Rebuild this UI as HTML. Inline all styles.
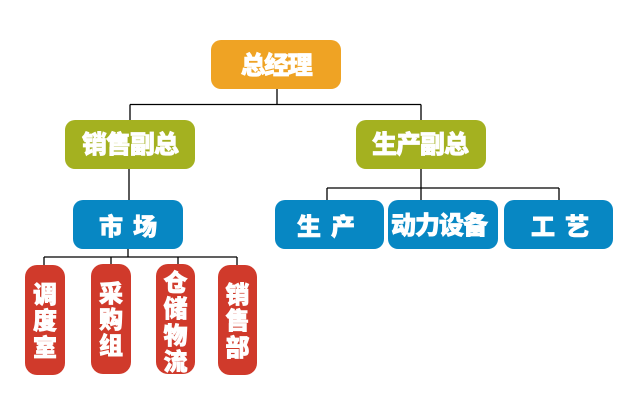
<!DOCTYPE html>
<html>
<head>
<meta charset="utf-8">
<style>
html,body{margin:0;padding:0;background:#fff;}
svg{display:block;}
text{font-family:"Liberation Sans","Noto Sans CJK SC","WenQuanYi Zen Hei",sans-serif;font-weight:900;fill:#fff;stroke:#fff;stroke-width:0.7;}
</style>
</head>
<body>
<svg width="640" height="400" viewBox="0 0 640 400" xmlns="http://www.w3.org/2000/svg">
  <rect width="640" height="400" fill="#fff"/>
  <!-- connectors -->
  <g stroke="#000" stroke-width="1.3" fill="none">
    <line x1="277" y1="89" x2="277" y2="104.5"/>
    <line x1="130" y1="104.5" x2="421" y2="104.5"/>
    <line x1="130" y1="104.5" x2="130" y2="120"/>
    <line x1="421" y1="104.5" x2="421" y2="120"/>
    <line x1="129" y1="169" x2="129" y2="200"/>
    <line x1="421" y1="169" x2="421" y2="200"/>
    <line x1="327" y1="188" x2="559" y2="188"/>
    <line x1="327" y1="188" x2="327" y2="200"/>
    <line x1="559" y1="188" x2="559" y2="200"/>
    <line x1="128" y1="249" x2="128" y2="257"/>
    <line x1="44" y1="257" x2="237" y2="257"/>
    <line x1="44" y1="257" x2="44" y2="265"/>
    <line x1="111" y1="257" x2="111" y2="264"/>
    <line x1="178" y1="257" x2="178" y2="264"/>
    <line x1="237" y1="257" x2="237" y2="265"/>
  </g>

  <!-- top -->
  <rect x="211" y="40" width="130" height="49" rx="10" fill="#EFA324"/>
  <text x="276" y="74" font-size="25" text-anchor="middle" letter-spacing="-1.5">总经理</text>

  <!-- level 2 -->
  <rect x="65" y="120" width="130" height="49" rx="10" fill="#A4B120"/>
  <text x="130" y="153" font-size="25" text-anchor="middle" letter-spacing="-1">销售副总</text>
  <rect x="356" y="120" width="130" height="49" rx="10" fill="#A4B120"/>
  <text x="420" y="153" font-size="25" text-anchor="middle" letter-spacing="-1">生产副总</text>

  <!-- level 3 blue -->
  <rect x="73" y="200" width="110" height="49" rx="10" fill="#0787C3"/>
  <text x="111" y="235" font-size="24" text-anchor="middle">市</text>
  <text x="145" y="235" font-size="24" text-anchor="middle">场</text>

  <rect x="275" y="200" width="109" height="49" rx="10" fill="#0787C3"/>
  <text x="309" y="235" font-size="24" text-anchor="middle">生</text>
  <text x="343" y="235" font-size="24" text-anchor="middle">产</text>

  <rect x="388" y="200" width="110" height="49" rx="10" fill="#0787C3"/>
  <text x="439" y="234" font-size="25" text-anchor="middle" letter-spacing="-1">动力设备</text>

  <rect x="504" y="200" width="109" height="49" rx="10" fill="#0787C3"/>
  <text x="543" y="235" font-size="24" text-anchor="middle">工</text>
  <text x="577" y="235" font-size="24" text-anchor="middle">艺</text>

  <!-- red -->
  <rect x="25" y="265" width="40" height="110" rx="12" fill="#D03A2B"/>
  <text x="45" y="303" font-size="24" text-anchor="middle">调</text>
  <text x="45" y="329" font-size="24" text-anchor="middle">度</text>
  <text x="45" y="356" font-size="24" text-anchor="middle">室</text>

  <rect x="91" y="264" width="40" height="110" rx="12" fill="#D03A2B"/>
  <text x="111" y="302" font-size="24" text-anchor="middle">采</text>
  <text x="111" y="328" font-size="24" text-anchor="middle">购</text>
  <text x="111" y="354" font-size="24" text-anchor="middle">组</text>

  <rect x="156" y="264" width="39" height="110" rx="12" fill="#D03A2B"/>
  <text x="175.5" y="291" font-size="24" text-anchor="middle">仓</text>
  <text x="175.5" y="317" font-size="24" text-anchor="middle">储</text>
  <text x="175.5" y="344" font-size="24" text-anchor="middle">物</text>
  <text x="175.5" y="370" font-size="24" text-anchor="middle">流</text>

  <rect x="218" y="265" width="39" height="110" rx="12" fill="#D03A2B"/>
  <text x="237.5" y="303" font-size="24" text-anchor="middle">销</text>
  <text x="237.5" y="329" font-size="24" text-anchor="middle">售</text>
  <text x="237.5" y="356" font-size="24" text-anchor="middle">部</text>
</svg>
</body>
</html>
